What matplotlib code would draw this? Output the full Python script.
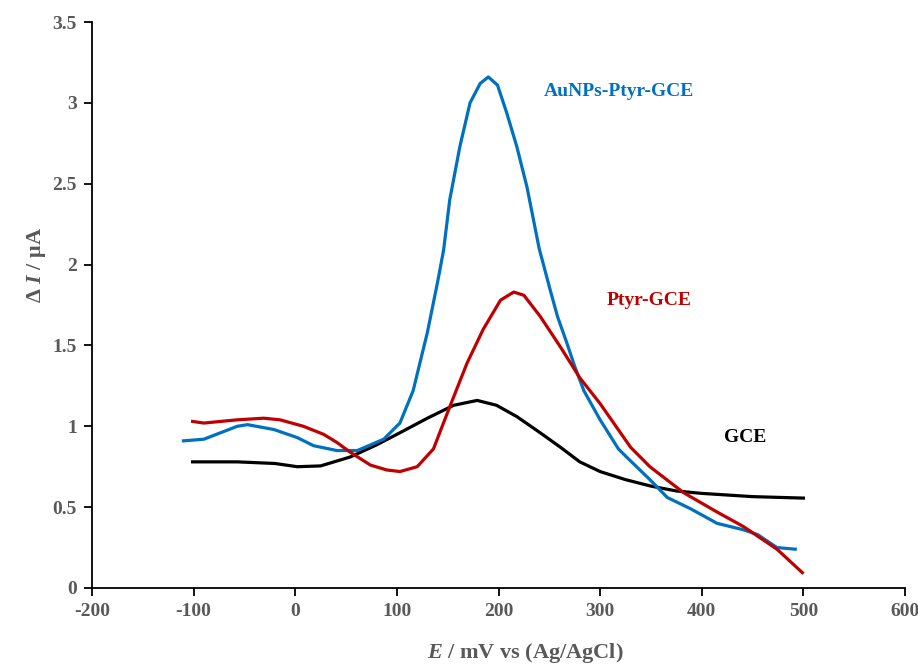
import matplotlib
matplotlib.use("Agg")
import matplotlib.pyplot as plt

plt.rcParams['font.family'] = ['Liberation Serif', 'DejaVu Serif']
plt.rcParams['font.weight'] = 'bold'
plt.rcParams['axes.unicode_minus'] = False
plt.rcParams['mathtext.fontset'] = 'custom'
plt.rcParams['mathtext.rm'] = 'Liberation Serif:bold'
plt.rcParams['mathtext.it'] = 'Liberation Serif:italic:bold'

# GCE (black)
gce_E = [-101, -57, -20, 2, 25, 54, 80, 103, 130, 156, 179, 198, 218, 241, 261, 280, 300, 325, 350, 375, 400, 450, 500]
gce_I = [0.78, 0.78, 0.77, 0.75, 0.755, 0.81, 0.885, 0.96, 1.05, 1.13, 1.16, 1.13, 1.06, 0.96, 0.87, 0.78, 0.72, 0.67, 0.63, 0.60, 0.585, 0.565, 0.556]

# Ptyr-GCE (red)
ptyr_E = [-101, -90, -57, -31, -15, 8, 28, 41, 54, 74, 90, 103, 120, 136, 152, 169, 185, 202, 215, 225,
          241, 261, 280, 300, 330, 349, 382, 415, 441, 474, 499]
ptyr_I = [1.03, 1.02, 1.04, 1.05, 1.04, 1.0, 0.95, 0.90, 0.84, 0.76, 0.73, 0.72, 0.75, 0.86, 1.12, 1.39, 1.60, 1.78, 1.83, 1.81,
          1.68, 1.49, 1.30, 1.14, 0.87, 0.75, 0.59, 0.47, 0.38, 0.24, 0.095]

# AuNPs-Ptyr-GCE (blue)
au_E = [-110, -90, -57, -47, -21, 2, 18, 41, 61, 87, 103, 116, 130, 140, 146, 152, 162, 172, 182, 190, 199, 208,
        218, 228, 240, 251, 258, 267, 275, 284, 300, 318, 326, 349, 366, 389, 415, 441, 455, 474, 492]
au_I = [0.91, 0.92, 1.0, 1.01, 0.98, 0.93, 0.88, 0.85, 0.85, 0.92, 1.02, 1.22, 1.58, 1.89, 2.09, 2.40, 2.73, 3.0, 3.12, 3.16, 3.11, 2.94,
        2.73, 2.48, 2.10, 1.84, 1.68, 1.52, 1.37, 1.22, 1.04, 0.86, 0.81, 0.67, 0.56, 0.49, 0.40, 0.36, 0.33, 0.25, 0.24]

gray = '#595959'

fig = plt.figure(figsize=(9.18, 6.66), dpi=100)
ax = fig.add_axes([92/918, 78/666, 813/918, 566/666])

ax.plot(gce_E, gce_I, color='black', lw=2.3, solid_joinstyle='round')
ax.plot(au_E, au_I, color='#0070C0', lw=2.3, solid_joinstyle='round')
ax.plot(ptyr_E, ptyr_I, color='#C00000', lw=2.3, solid_joinstyle='round')

ax.set_xlim(-200, 600)
ax.set_ylim(0, 3.5)
ax.set_xticks(range(-200, 601, 100))
ax.set_yticks([0, 0.5, 1, 1.5, 2, 2.5, 3, 3.5])
ax.set_yticklabels(['0', '0.5', '1', '1.5', '2', '2.5', '3', '3.5'])
ax.spines['top'].set_visible(False)
ax.spines['right'].set_visible(False)
for s in ['left', 'bottom']:
    ax.spines[s].set_linewidth(1.3)
ax.tick_params(direction='out', length=6, width=1.3, labelsize=14, labelcolor=gray, pad=5)

ax.set_xlabel(r'$\mathit{E}$ / mV vs (Ag/AgCl)', fontsize=16, color=gray, fontweight='bold')
ax.set_ylabel('Δ $\\mathit{I}$ / μA', fontsize=16, color=gray, fontweight='bold')
ax.xaxis.set_label_coords(0.533, -0.094)
ax.yaxis.set_label_coords(-0.054, 0.57)

ax.text(245, 3.04, 'AuNPs-Ptyr-GCE', color='#0070C0', fontsize=14, fontweight='bold')
ax.text(306, 1.75, 'Ptyr-GCE', color='#C00000', fontsize=14, fontweight='bold')
ax.text(422, 0.90, 'GCE', color='black', fontsize=14, fontweight='bold')

fig.savefig('out.png', dpi=100)
